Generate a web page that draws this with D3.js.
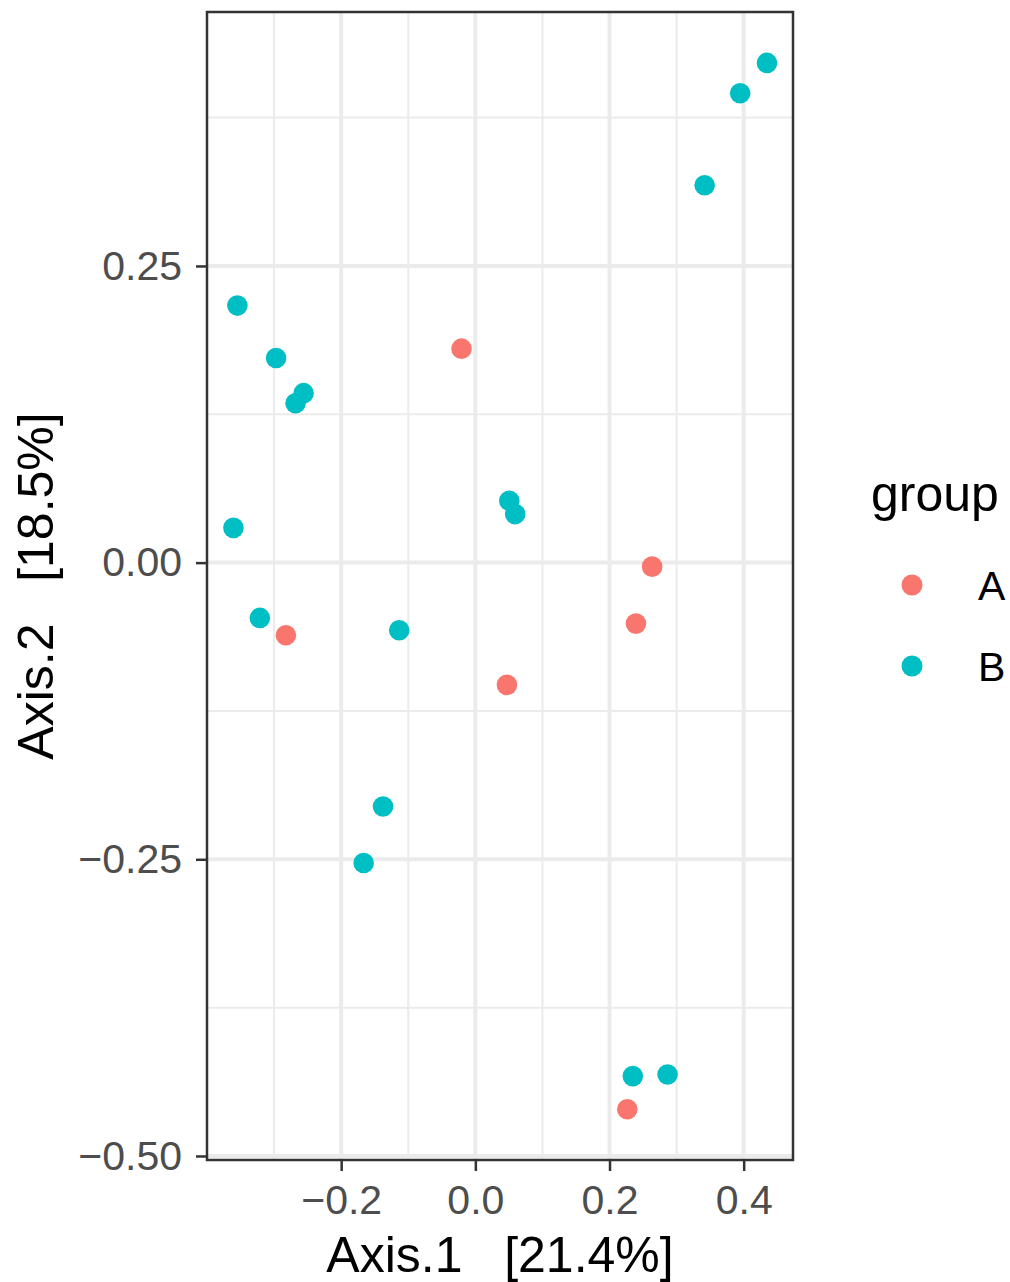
<!DOCTYPE html>
<html>
<head>
<meta charset="utf-8">
<script src="https://cdn.jsdelivr.net/npm/d3@7"></script>
<style>
  body { margin: 0; background: #fff; }
  svg text { font-family: "Liberation Sans", Arial, sans-serif; }
</style>
</head>
<body>
<div id="chart-container"></div>
<script>
const w = 1010;
const h = 1282;

// ordination scores
const groups = ["A", "B"];
const colors = ["#F8766D", "#00BFC4"];

const groupA_x = [-0.0206, 0.2635, 0.2394, -0.2824, 0.0471, 0.2265];
const groupA_y = [0.1803, -0.0034, -0.0514, -0.0612, -0.1030, -0.4606];

const groupB_x = [0.4347, 0.3947, 0.3418, -0.3547, -0.2970, -0.2560, -0.2680, 0.0506, 0.0594, -0.3606, -0.3212, -0.1135, -0.1376, -0.1665, 0.2347, 0.2865];
const groupB_y = [0.4211, 0.3955, 0.3180, 0.2166, 0.1724, 0.1428, 0.1343, 0.0522, 0.0409, 0.0293, -0.0466, -0.0570, -0.2055, -0.2531, -0.4327, -0.4313];

const xTicks = [-0.2, 0.0, 0.2, 0.4];
const xMinor = [-0.3, -0.1, 0.1, 0.3];
const yTicks = [0.25, 0.00, -0.25, -0.50];
const yMinor = [0.375, 0.125, -0.125, -0.375];

// non-breaking spaces so the gap survives svg whitespace collapsing
const xTitle = "Axis.1\u00A0\u00A0\u00A0[21.4%]";
const yTitle = "Axis.2\u00A0\u00A0\u00A0[18.5%]";
const legendTitle = "group";

const panel = { left: 207, right: 793, top: 12, bottom: 1160 };

const x = d3.scaleLinear().domain([-0.4, 0.4735]).range([panel.left, panel.right]);
const y = d3.scaleLinear().domain([-0.5034, 0.464]).range([panel.bottom, panel.top]);

const svg = d3.select("#chart-container")
  .append("svg")
  .attr("width", w)
  .attr("height", h);

// grid
const grid = svg.append("g");
grid.selectAll(".xminor").data(xMinor).join("line")
  .attr("x1", d => x(d)).attr("x2", d => x(d))
  .attr("y1", panel.top).attr("y2", panel.bottom)
  .attr("stroke", "#EBEBEB").attr("stroke-width", 2);
grid.selectAll(".yminor").data(yMinor).join("line")
  .attr("y1", d => y(d)).attr("y2", d => y(d))
  .attr("x1", panel.left).attr("x2", panel.right)
  .attr("stroke", "#EBEBEB").attr("stroke-width", 2);
grid.selectAll(".xmajor").data(xTicks).join("line")
  .attr("x1", d => x(d)).attr("x2", d => x(d))
  .attr("y1", panel.top).attr("y2", panel.bottom)
  .attr("stroke", "#EBEBEB").attr("stroke-width", 4);
grid.selectAll(".ymajor").data(yTicks).join("line")
  .attr("y1", d => y(d)).attr("y2", d => y(d))
  .attr("x1", panel.left).attr("x2", panel.right)
  .attr("stroke", "#EBEBEB").attr("stroke-width", 4);

// points
const pts = [];
groupA_x.forEach((v, i) => pts.push({ x: v, y: groupA_y[i], g: "A" }));
groupB_x.forEach((v, i) => pts.push({ x: v, y: groupB_y[i], g: "B" }));
const color = d3.scaleOrdinal().domain(groups).range(colors);

svg.append("g").selectAll("circle")
  .data(pts)
  .join("circle")
  .attr("cx", d => x(d.x))
  .attr("cy", d => y(d.y))
  .attr("r", 10.3)
  .attr("fill", d => color(d.g));

// panel border
svg.append("rect")
  .attr("x", panel.left).attr("y", panel.top)
  .attr("width", panel.right - panel.left)
  .attr("height", panel.bottom - panel.top)
  .attr("fill", "none")
  .attr("stroke", "#333333")
  .attr("stroke-width", 2.5);

// axes
const fmtX = d => d3.format(".1f")(d).replace("-", "\u2212");
const fmtY = d => d3.format(".2f")(d).replace("-", "\u2212");

const xAxis = svg.append("g")
  .attr("transform", `translate(0,${panel.bottom})`)
  .call(d3.axisBottom(x).tickValues(xTicks).tickFormat(fmtX).tickSize(11).tickPadding(14));
const yAxis = svg.append("g")
  .attr("transform", `translate(${panel.left},0)`)
  .call(d3.axisLeft(y).tickValues(yTicks).tickFormat(fmtY).tickSize(11).tickPadding(14));

[xAxis, yAxis].forEach(a => {
  a.select(".domain").remove();
  a.selectAll(".tick line").attr("stroke", "#333333").attr("stroke-width", 2.5);
  a.selectAll(".tick text")
    .attr("fill", "#4D4D4D")
    .style("font-family", "\"Liberation Sans\", Arial, sans-serif")
    .style("font-size", "41px");
});

// titles
svg.append("text")
  .attr("x", (panel.left + panel.right) / 2)
  .attr("y", 1272)
  .attr("text-anchor", "middle")
  .style("font-size", "50px")
  .attr("fill", "#000")
  .text(xTitle);

svg.append("text")
  .attr("transform", `translate(53,${(panel.top + panel.bottom) / 2}) rotate(-90)`)
  .attr("text-anchor", "middle")
  .style("font-size", "50px")
  .attr("fill", "#000")
  .text(yTitle);

// legend
const legend = svg.append("g");
legend.append("text")
  .attr("x", 871).attr("y", 511)
  .style("font-size", "50px")
  .text(legendTitle);

const items = legend.selectAll(".item").data(groups).join("g")
  .attr("transform", (d, i) => `translate(912,${585 + i * 81})`);
items.append("circle").attr("r", 10.5).attr("fill", d => color(d));
items.append("text")
  .attr("x", 66).attr("y", 15)
  .style("font-size", "41px")
  .text(d => d);
</script>
</body>
</html>
